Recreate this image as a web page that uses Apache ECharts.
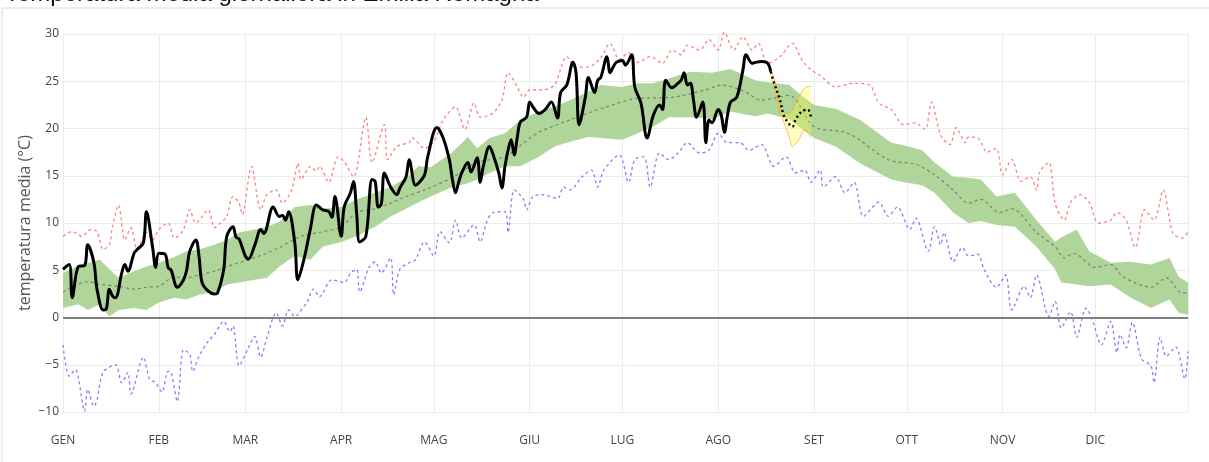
<!DOCTYPE html>
<html>
<head>
<meta charset="utf-8">
<script src="https://cdn.jsdelivr.net/npm/echarts@6/dist/echarts.min.js"></script>
<style>
  html, body { margin: 0; padding: 0; background: #fff; }
  #chart { width: 1209px; height: 462px; }
</style>
</head>
<body>
<div id="chart"></div>
<script>
// mesi (etichette asse x)
var months = ['GEN', 'FEB', 'MAR', 'APR', 'MAG', 'GIU', 'LUG', 'AGO', 'SET', 'OTT', 'NOV', 'DIC']

// fascia normale (verde): giorno dell'anno, limite alto, limite basso
var normDays = [0, 5, 8, 12, 15, 18, 23, 27, 31, 36, 40, 44, 49, 53, 57, 62, 66, 70, 75, 80, 84, 90, 95, 101, 106, 111, 115, 119, 126, 131, 134, 138, 143, 148, 154, 159, 164, 170, 174, 181, 186, 191, 196, 203, 210, 216, 224, 228, 235, 239, 243, 250, 258, 268, 271, 278, 282, 288, 293, 297, 302, 308, 315, 321, 323, 328, 332, 339, 345, 352, 358, 361, 364]
var normHigh = [4.7, 5.5, 5.8, 6.1, 5.1, 4.2, 4.9, 5.4, 5.8, 6.4, 7.0, 7.2, 7.7, 8.2, 9.0, 9.3, 9.6, 10.1, 11.7, 11.9, 11.5, 11.7, 12.5, 13.2, 13.8, 14.8, 16.0, 15.9, 17.5, 19.1, 17.9, 19.0, 19.5, 20.9, 21.8, 22.3, 23.0, 23.9, 24.6, 24.4, 24.8, 24.8, 25.3, 26.0, 25.9, 26.3, 25.1, 24.9, 24.6, 23.5, 22.5, 22.1, 20.9, 18.5, 18.3, 17.7, 16.4, 14.9, 14.8, 14.6, 12.8, 13.2, 10.3, 8.0, 8.5, 9.3, 7.0, 5.8, 5.9, 5.6, 6.3, 4.3, 3.7]
var normLow = [1.0, 1.4, 0.8, 1.4, 0.1, 0.8, 1.0, 0.8, 1.6, 2.1, 1.9, 2.4, 2.7, 3.5, 3.7, 4.0, 4.2, 5.4, 6.5, 6.1, 7.5, 8.0, 8.6, 9.6, 10.7, 11.5, 12.2, 12.8, 13.8, 14.2, 14.6, 15.3, 16.0, 16.0, 17.0, 18.1, 18.6, 19.1, 19.0, 18.8, 19.5, 20.2, 21.2, 21.2, 21.0, 21.8, 21.3, 21.6, 21.0, 20.0, 19.0, 18.1, 16.3, 14.6, 14.4, 14.0, 13.2, 11.1, 10.0, 10.2, 9.8, 9.6, 7.5, 5.1, 3.7, 3.5, 3.3, 3.5, 2.2, 1.0, 1.9, 0.5, 0.3]

// media climatologica
var medDays = [0, 8, 12, 18, 23, 27, 31, 36, 40, 44, 49, 55, 60, 65, 70, 77, 83, 90, 95, 101, 106, 111, 117, 126, 134, 143, 148, 154, 164, 175, 186, 197, 208, 213, 220, 226, 235, 243, 254, 267, 276, 282, 288, 293, 297, 303, 307, 315, 321, 324, 327, 334, 339, 343, 352, 357, 362, 364]
var medVals = [2.7, 3.8, 3.5, 3.3, 3.0, 3.2, 3.3, 4.3, 4.2, 4.5, 4.9, 5.6, 6.1, 6.7, 7.4, 8.6, 9.0, 9.6, 11.1, 11.5, 12.1, 12.8, 13.5, 14.8, 16.4, 17.0, 18.2, 19.6, 20.9, 22.2, 23.2, 23.3, 24.1, 24.6, 24.0, 23.0, 23.5, 20.2, 19.5, 16.7, 16.2, 15.1, 13.5, 12.1, 12.5, 11.1, 11.5, 9.0, 7.5, 6.3, 6.8, 5.3, 5.6, 4.3, 3.2, 4.2, 2.6, 2.6]

// record massimi (rosso)
var maxDays = [0, 3, 6, 9, 11, 13, 15, 16, 18, 20, 22, 24, 27, 29, 31, 34, 36, 39, 41, 43, 47, 49, 51, 53, 55, 57, 58, 61, 64, 66, 69, 71, 74, 76, 77, 79, 80, 82, 83, 86, 89, 91, 94, 98, 100, 104, 105, 108, 112, 113, 117, 120, 123, 127, 130, 133, 135, 139, 142, 144, 147, 149, 151, 155, 159, 163, 166, 170, 174, 177, 180, 183, 186, 190, 194, 197, 200, 202, 206, 209, 212, 214, 217, 220, 223, 225, 228, 232, 235, 236, 239, 242, 245, 250, 256, 261, 264, 268, 272, 276, 277, 279, 281, 284, 287, 289, 292, 293, 296, 299, 302, 304, 307, 310, 313, 315, 316, 319, 321, 324, 326, 329, 332, 335, 339, 341, 344, 347, 350, 353, 356, 359, 362, 364]
var maxVals = [8.6, 9.1, 8.6, 9.3, 9.1, 7.2, 7.7, 9.6, 11.9, 8.2, 9.5, 7.2, 9.0, 8.2, 9.3, 10.0, 8.4, 9.3, 11.4, 10.0, 11.4, 9.5, 10.0, 10.7, 12.8, 12.1, 10.9, 16.0, 11.4, 13.0, 13.5, 12.1, 13.5, 16.3, 14.6, 15.6, 16.0, 15.5, 16.0, 14.3, 17.0, 16.5, 14.9, 21.2, 16.4, 20.4, 16.7, 18.1, 18.5, 19.0, 17.9, 18.6, 20.9, 22.3, 19.9, 22.7, 21.2, 21.6, 23.0, 25.9, 24.4, 23.3, 24.1, 24.1, 24.6, 27.6, 26.5, 26.5, 27.5, 29.0, 27.3, 28.0, 27.0, 27.6, 26.9, 28.3, 27.8, 28.8, 28.3, 29.4, 28.3, 30.2, 28.3, 29.7, 28.3, 29.0, 26.9, 27.6, 28.8, 29.0, 27.3, 26.2, 25.6, 24.4, 24.8, 24.6, 22.7, 22.0, 20.4, 20.6, 20.4, 19.9, 22.8, 19.3, 18.3, 20.1, 18.5, 19.1, 19.0, 17.5, 17.9, 15.1, 16.7, 14.4, 14.9, 13.5, 15.4, 16.4, 12.1, 10.3, 12.2, 13.0, 12.2, 10.0, 10.3, 11.1, 10.3, 7.4, 11.4, 10.3, 13.5, 9.0, 8.4, 9.0]

// record minimi (blu)
var minDays = [0, 2, 4, 7, 8, 10, 11, 13, 17, 19, 21, 22, 26, 28, 30, 32, 34, 35, 37, 39, 41, 42, 44, 47, 49, 52, 54, 55, 57, 60, 62, 64, 66, 69, 71, 73, 75, 78, 79, 81, 83, 87, 91, 93, 95, 96, 99, 101, 103, 106, 107, 109, 112, 114, 117, 120, 122, 125, 127, 129, 133, 135, 137, 139, 143, 144, 146, 149, 150, 152, 155, 160, 162, 164, 168, 171, 173, 175, 180, 183, 185, 188, 190, 193, 196, 199, 202, 206, 209, 212, 215, 219, 222, 226, 230, 234, 237, 240, 242, 245, 246, 250, 253, 256, 259, 264, 267, 270, 274, 276, 280, 282, 284, 285, 288, 291, 293, 296, 298, 302, 305, 307, 311, 313, 315, 319, 321, 323, 326, 328, 331, 333, 336, 339, 341, 342, 344, 346, 349, 352, 353, 355, 357, 360, 363, 364]
var minVals = [-2.9, -6.2, -5.5, -9.9, -7.6, -9.4, -8.7, -5.8, -5.0, -6.9, -5.8, -8.1, -4.2, -6.5, -6.9, -7.9, -5.7, -5.8, -8.9, -3.4, -3.9, -5.7, -4.1, -2.5, -1.8, -0.4, -1.5, -0.9, -5.1, -3.2, -2.0, -4.2, -2.1, 0.5, -0.9, 0.8, 0.1, 1.2, 1.6, 3.0, 2.2, 4.0, 3.7, 4.7, 5.1, 2.7, 5.3, 5.9, 4.7, 6.3, 2.4, 5.1, 5.8, 6.1, 8.0, 6.5, 9.1, 7.9, 10.3, 8.4, 9.8, 8.0, 10.0, 11.1, 11.2, 9.0, 13.5, 12.5, 11.4, 12.8, 13.0, 12.6, 13.8, 13.5, 14.9, 15.6, 13.8, 15.6, 17.2, 14.3, 16.7, 17.0, 13.8, 17.4, 16.7, 17.4, 18.5, 17.4, 17.7, 19.5, 18.5, 18.5, 17.7, 18.3, 16.0, 17.0, 15.3, 15.6, 14.3, 15.6, 13.8, 14.9, 13.2, 14.3, 10.7, 12.2, 10.7, 11.7, 9.3, 10.5, 7.0, 9.6, 7.7, 9.0, 5.9, 7.4, 6.5, 6.7, 5.1, 3.2, 4.5, 0.8, 3.3, 2.1, 4.5, 0.1, 1.7, -1.1, 0.6, -2.1, 1.0, -0.2, -2.9, -0.4, -3.7, -1.8, -3.2, -0.5, -4.4, -5.1, -6.9, -2.1, -4.1, -3.1, -6.5, -3.6]

// anno in corso (nero)
var obsDays = [0, 2, 3, 5, 7, 8, 10, 11, 13, 14, 15, 16, 17, 19, 20, 21, 23, 24, 26, 27, 29, 30, 31, 33, 34, 35, 37, 39, 40, 41, 43, 44, 45, 47, 49, 50, 52, 53, 55, 56, 57, 59, 60, 62, 64, 65, 68, 70, 71, 72, 73, 75, 76, 78, 80, 82, 84, 86, 87, 88, 90, 91, 93, 94, 95, 96, 98, 100, 101, 102, 103, 104, 106, 108, 109, 111, 112, 114, 115, 117, 118, 121, 123, 125, 126, 127, 128, 129, 131, 132, 134, 135, 136, 138, 139, 141, 142, 143, 144, 145, 146, 147, 148, 150, 151, 152, 154, 156, 158, 160, 161, 163, 165, 166, 167, 169, 170, 172, 173, 174, 176, 177, 178, 179, 181, 182, 184, 185, 187, 189, 191, 193, 194, 195, 197, 199, 200, 201, 202, 203, 204, 205, 207, 208, 209, 210, 212, 213, 214, 215, 216, 218, 220, 221, 223, 224, 226, 228, 229]
var obsVals = [5.1, 5.6, 2.1, 5.4, 5.5, 7.7, 5.8, 3.0, 0.8, 0.9, 3.0, 2.3, 2.1, 4.7, 5.6, 4.9, 6.8, 7.2, 7.9, 11.2, 7.4, 5.3, 6.8, 6.7, 5.3, 5.0, 3.2, 4.0, 5.0, 7.0, 8.2, 6.5, 3.7, 2.8, 2.5, 2.6, 5.1, 8.6, 9.6, 8.5, 8.3, 6.5, 6.2, 7.6, 9.3, 8.9, 11.7, 10.7, 10.8, 10.3, 11.2, 7.9, 4.0, 6.2, 9.3, 11.9, 11.4, 11.2, 10.6, 12.8, 8.6, 11.7, 13.2, 14.4, 11.1, 8.0, 8.6, 14.6, 14.4, 11.7, 12.0, 15.3, 13.8, 13.0, 13.7, 14.9, 16.7, 14.0, 14.2, 15.1, 17.0, 20.1, 19.0, 16.7, 14.6, 13.2, 14.3, 15.3, 16.4, 15.4, 16.9, 14.3, 16.0, 18.1, 17.4, 15.3, 13.7, 16.0, 17.7, 18.8, 17.2, 19.1, 20.7, 21.2, 22.8, 22.3, 21.6, 22.0, 22.8, 21.1, 23.8, 24.6, 27.0, 25.9, 20.4, 23.3, 25.4, 23.8, 25.1, 25.4, 27.6, 25.9, 26.5, 27.0, 27.2, 26.7, 27.8, 24.4, 22.7, 19.0, 21.4, 22.5, 22.0, 25.1, 24.3, 24.8, 25.1, 25.9, 24.6, 24.8, 23.0, 21.2, 22.8, 18.5, 20.9, 20.6, 22.0, 21.4, 19.6, 21.4, 22.8, 23.3, 26.2, 27.8, 26.9, 27.0, 27.1, 26.9, 26.0]

// previsione (nero tratteggiato) e incertezza (giallo)
var fcDays = [229, 230, 232, 233, 234, 236, 237, 239, 241, 242]
var fcVals = [26.0, 24.9, 23.0, 21.6, 20.9, 20.2, 20.9, 21.8, 22.0, 21.2]
var fcBandDays = [229, 230, 231, 233, 235, 236, 238, 240, 242]
var fcHigh = [26.2, 25.4, 23.6, 21.7, 21.6, 22.0, 23.3, 24.3, 24.5]
var fcLow = [25.5, 24.6, 23.0, 20.9, 19.1, 18.1, 18.8, 19.9, 19.0]

var DAY = 86400000
var start = Date.UTC(2023, 0, 1)
function t(d) { return start + d * DAY }
function pairs(days, vals) {
    return days.map(function (d, i) { return [t(d), vals[i]] })
}
function diff(days, hi, lo) {
    return days.map(function (d, i) { return [t(d), +(hi[i] - lo[i]).toFixed(2)] })
}

var myChart = echarts.init(document.getElementById('chart'))
var option = {
    useUTC: true,
    animation: false,
    backgroundColor: '#fff',
    title: {
        text: 'Temperatura media giornaliera in Emilia Romagna',
        left: 0,
        top: -23,
        textStyle: { fontFamily: 'Liberation Sans', fontSize: 24, fontWeight: 'normal', color: '#111' }
    },
    graphic: [{
        type: 'rect',
        shape: { x: 2, y: 8, width: 1240, height: 480 },
        style: { fill: 'none', stroke: '#dcdcdc', lineWidth: 1 },
        silent: true,
        z: -1
    }],
    grid: { left: 63, right: 21, top: 34, bottom: 50 },
    xAxis: {
        type: 'time',
        min: t(0),
        max: t(364),
        splitNumber: 12,
        minInterval: 28 * DAY,
        maxInterval: 31 * DAY,
        axisLine: { show: false },
        axisTick: { show: false },
        axisLabel: {
            formatter: function (v) { return months[new Date(v).getUTCMonth()] },
            color: '#444',
            fontFamily: 'Open Sans',
            fontSize: 12,
            margin: 23,
            hideOverlap: false
        },
        splitLine: { show: true, lineStyle: { color: '#ebebeb', width: 1 } }
    },
    yAxis: {
        type: 'value',
        min: -10,
        max: 30,
        interval: 5,
        name: 'temperatura media (°C)',
        nameLocation: 'middle',
        nameGap: 30,
        nameMoveOverlap: false,
        nameTextStyle: { color: '#555', fontFamily: 'Open Sans', fontSize: 16 },
        axisLine: { show: false },
        axisTick: { show: false },
        axisLabel: {
            color: '#444',
            fontFamily: 'Open Sans',
            fontSize: 12,
            margin: 4,
            formatter: function (v) { return v < 0 ? '\u2212' + Math.abs(v) : v }
        },
        splitLine: { lineStyle: { color: '#ebebeb', width: 1 } }
    },
    series: [
        {
            name: 'normLow',
            type: 'line',
            stack: 'norm',
            data: pairs(normDays, normLow),
            symbol: 'none',
            lineStyle: { width: 0, opacity: 0 },
            z: 1
        }, {
            name: 'normRange',
            type: 'line',
            stack: 'norm',
            data: diff(normDays, normHigh, normLow),
            symbol: 'none',
            lineStyle: { width: 0, opacity: 0 },
            areaStyle: { color: '#b0d59b', opacity: 1 },
            z: 1
        }, {
            name: 'media',
            type: 'line',
            data: pairs(medDays, medVals),
            symbol: 'none',
            smooth: 0.3,
            lineStyle: { color: 'rgba(70,70,70,0.55)', width: 1.2, type: [3, 3] },
            markLine: {
                silent: true,
                symbol: 'none',
                label: { show: false },
                lineStyle: { color: '#808080', width: 2, type: 'solid' },
                data: [{ yAxis: 0 }]
            },
            z: 2
        }, {
            name: 'max',
            type: 'line',
            data: pairs(maxDays, maxVals),
            symbol: 'none',
            smooth: 0.3,
            clip: false,
            lineStyle: { color: '#ff8080', width: 1.3, type: [3, 3] },
            z: 2
        }, {
            name: 'min',
            type: 'line',
            data: pairs(minDays, minVals),
            symbol: 'none',
            smooth: 0.3,
            lineStyle: { color: '#8080ff', width: 1.3, type: [3, 3] },
            z: 2
        }, {
            name: 'fcLow',
            type: 'line',
            stack: 'fc',
            data: pairs(fcBandDays, fcLow),
            symbol: 'none',
            smooth: 0.3,
            lineStyle: { color: 'rgba(255,160,40,0.7)', width: 1 },
            z: 3
        }, {
            name: 'fcRange',
            type: 'line',
            stack: 'fc',
            data: diff(fcBandDays, fcHigh, fcLow),
            symbol: 'none',
            smooth: 0.3,
            lineStyle: { color: 'rgba(255,160,40,0.7)', width: 1 },
            areaStyle: { color: 'rgba(255,255,60,0.45)' },
            z: 3
        }, {
            name: 'osservato',
            type: 'line',
            data: pairs(obsDays, obsVals),
            symbol: 'none',
            smooth: 0.35,
            lineStyle: { color: '#000', width: 3 },
            z: 4
        }, {
            name: 'previsione',
            type: 'line',
            data: pairs(fcDays, fcVals),
            symbol: 'none',
            smooth: 0.35,
            lineStyle: { color: '#000', width: 2.5, type: [2, 3] },
            z: 5
        }
    ]
}
myChart.setOption(option)
</script>
</body>
</html>
